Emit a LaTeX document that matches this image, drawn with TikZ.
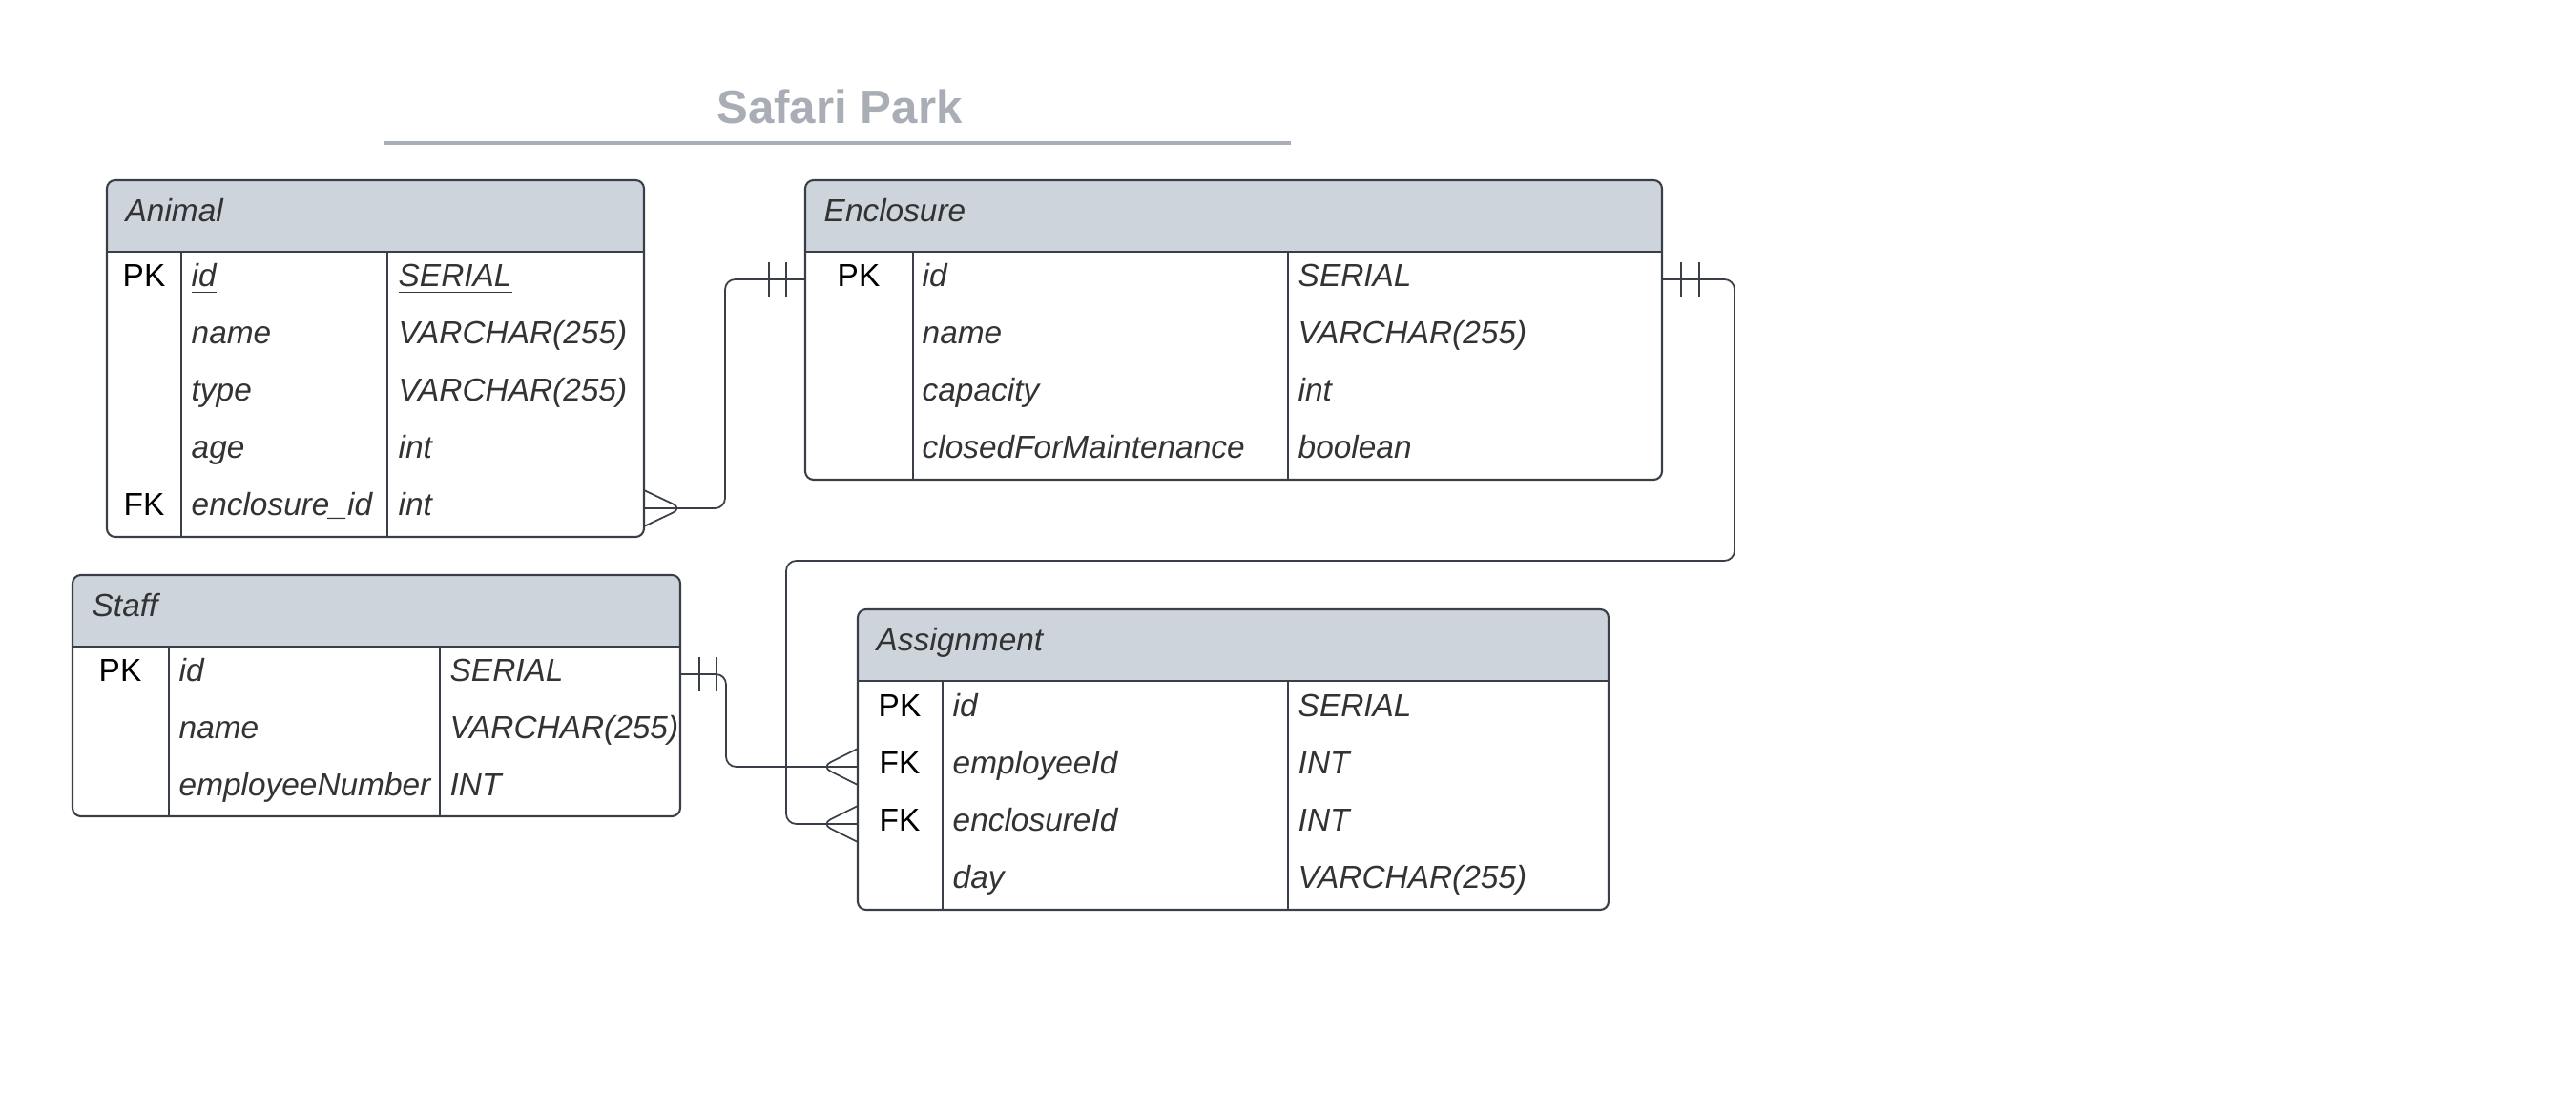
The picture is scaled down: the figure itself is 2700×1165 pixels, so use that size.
\documentclass[tikz,border=0pt]{standalone}
\usepackage{fontspec}
\setmainfont{Liberation Sans}
\definecolor{erline}{HTML}{3A3F47}
\definecolor{hdr}{HTML}{CED4DC}
\definecolor{ttl}{HTML}{A9AEB6}
\definecolor{txt}{HTML}{333333}

\begin{document}
\begin{tikzpicture}[x=0.01cm, y=-0.01cm,
  every node/.style={inner sep=0pt, font=\fontsize{9.5}{11}\selectfont},
  key/.style={anchor=base, text=black},
  fld/.style={anchor=base west, text=txt, font=\fontsize{9.5}{11}\selectfont\itshape},
  box/.style={draw=erline, line width=0.6pt, rounded corners=2.5pt},
  sep/.style={draw=erline, line width=0.5pt},
  rel/.style={draw=erline, line width=0.5pt, rounded corners=3pt}]
\useasboundingbox (0,0) rectangle (2700,1165);

% title
\node[anchor=base, text=ttl, font=\fontsize{14}{16}\selectfont\bfseries] (title) at (880,130) {Safari Park};
\draw[ttl, line width=1.4pt] (403,150) -- (1353,150);

% Animal
\begin{scope}
\clip[rounded corners=2.5pt] (112,189) rectangle (675,563);
\fill[hdr] (112,189) rectangle (675,264);
\end{scope}
\draw[box] (112,189) rectangle (675,563);
\draw[box] (112,264) -- (675,264);
\draw[sep] (190,264) -- (190,563) (406,264) -- (406,563);
\node[fld] (animal) at (131,233) {Animal};
\node[key] (an-k1) at (151,301) {PK};
\node[fld] (an-f1) at (200,301) {\underline{id}};
\node[fld] (an-t1) at (417,301) {\underline{SERIAL}};
\node[fld] (an-f2) at (200,361) {name};
\node[fld] (an-t2) at (417,361) {VARCHAR(255)};
\node[fld] (an-f3) at (200,421) {type};
\node[fld] (an-t3) at (417,421) {VARCHAR(255)};
\node[fld] (an-f4) at (200,481) {age};
\node[fld] (an-t4) at (417,481) {int};
\node[key] (an-k5) at (151,541) {FK};
\node[fld] (an-f5) at (200,541) {enclosure\_id};
\node[fld] (an-t5) at (417,541) {int};

% Enclosure
\begin{scope}
\clip[rounded corners=2.5pt] (844,189) rectangle (1742,503);
\fill[hdr] (844,189) rectangle (1742,264);
\end{scope}
\draw[box] (844,189) rectangle (1742,503);
\draw[box] (844,264) -- (1742,264);
\draw[sep] (957,264) -- (957,503) (1350,264) -- (1350,503);
\node[fld] (enclosure) at (863,233) {Enclosure};
\node[key] (en-k1) at (900,301) {PK};
\node[fld] (en-f1) at (966,301) {id};
\node[fld] (en-t1) at (1360,301) {SERIAL};
\node[fld] (en-f2) at (966,361) {name};
\node[fld] (en-t2) at (1360,361) {VARCHAR(255)};
\node[fld] (en-f3) at (966,421) {capacity};
\node[fld] (en-t3) at (1360,421) {int};
\node[fld] (en-f4) at (966,481) {closedForMaintenance};
\node[fld] (en-t4) at (1360,481) {boolean};

% Staff
\begin{scope}
\clip[rounded corners=2.5pt] (76,603) rectangle (713,856);
\fill[hdr] (76,603) rectangle (713,678);
\end{scope}
\draw[box] (76,603) rectangle (713,856);
\draw[box] (76,678) -- (713,678);
\draw[sep] (177,678) -- (177,856) (461,678) -- (461,856);
\node[fld] (staff) at (96,647) {Staff};
\node[key] (st-k1) at (126,715) {PK};
\node[fld] (st-f1) at (187,715) {id};
\node[fld] (st-t1) at (471,715) {SERIAL};
\node[fld] (st-f2) at (187,775) {name};
\node[fld] (st-t2) at (471,775) {VARCHAR(255)};
\node[fld] (st-f3) at (187,835) {employeeNumber};
\node[fld] (st-t3) at (471,835) {INT};

% Assignment
\begin{scope}
\clip[rounded corners=2.5pt] (899,639) rectangle (1686,954);
\fill[hdr] (899,639) rectangle (1686,714);
\end{scope}
\draw[box] (899,639) rectangle (1686,954);
\draw[box] (899,714) -- (1686,714);
\draw[sep] (988,714) -- (988,954) (1350,714) -- (1350,954);
\node[fld] (assignment) at (918,683) {Assignment};
\node[key] (as-k1) at (943,752) {PK};
\node[fld] (as-f1) at (998,752) {id};
\node[fld] (as-t1) at (1360,752) {SERIAL};
\node[key] (as-k2) at (943,812) {FK};
\node[fld] (as-f2) at (998,812) {employeeId};
\node[fld] (as-t2) at (1360,812) {INT};
\node[key] (as-k3) at (943,872) {FK};
\node[fld] (as-f3) at (998,872) {enclosureId};
\node[fld] (as-t3) at (1360,872) {INT};
\node[fld] (as-f4) at (998,932) {day};
\node[fld] (as-t4) at (1360,932) {VARCHAR(255)};

% row ends for the relations
\coordinate (an-fk) at (675,533);
\coordinate (en-pkl) at (844,293);
\coordinate (en-pkr) at (1742,293);
\coordinate (st-pk) at (713,707);
\coordinate (as-emp) at (899,804);
\coordinate (as-enc) at (899,864);

% Animal >-- Enclosure
\draw[rel] (an-fk) -- ++(85,0) |- (en-pkl);
\draw[rel] (an-fk) ++(0,-19) -- ++(40,19) -- ++(-40,19);
\draw[rel] (en-pkl) ++(-20,-18) -- ++(0,36);
\draw[rel] (en-pkl) ++(-38,-18) -- ++(0,36);

% Enclosure --< Assignment
\draw[rel] (en-pkr) -| (1818,588) -| (824,864) -- (as-enc);
\draw[rel] (en-pkr) ++(20,-18) -- ++(0,36);
\draw[rel] (en-pkr) ++(39,-18) -- ++(0,36);
\draw[rel] (as-enc) ++(0,-19) -- ++(-38,19) -- ++(38,19);

% Staff --< Assignment
\draw[rel] (st-pk) -- ++(48,0) |- (as-emp);
\draw[rel] (st-pk) ++(20,-18) -- ++(0,36);
\draw[rel] (st-pk) ++(38,-18) -- ++(0,36);
\draw[rel] (as-emp) ++(0,-19) -- ++(-38,19) -- ++(38,19);
\end{tikzpicture}
\end{document}
